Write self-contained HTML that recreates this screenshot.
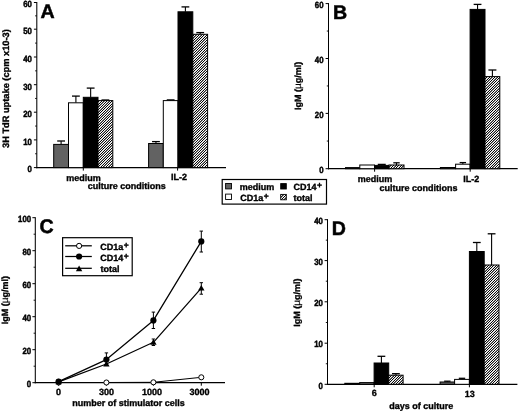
<!DOCTYPE html>
<html><head><meta charset="utf-8"><title>Figure</title>
<style>
html,body{margin:0;padding:0;background:#fff;}
body{width:520px;height:412px;overflow:hidden;font-family:"Liberation Sans",sans-serif;}
svg{display:block;font-family:"Liberation Sans",sans-serif;font-weight:bold;text-rendering:geometricPrecision;}
text{fill:#000;}
</style></head><body>
<svg width="520" height="412" viewBox="0 0 520 412">
<rect width="520" height="412" fill="#fff"/>
<defs><linearGradient id="hg" gradientUnits="userSpaceOnUse" x1="0" y1="0" x2="1.3" y2="1.3" spreadMethod="repeat"><stop offset="0" stop-color="rgb(0,0,0)"/><stop offset="0.06" stop-color="rgb(0,0,0)"/><stop offset="0.12" stop-color="rgb(9,9,9)"/><stop offset="0.19" stop-color="rgb(75,75,75)"/><stop offset="0.25" stop-color="rgb(153,153,153)"/><stop offset="0.31" stop-color="rgb(231,231,231)"/><stop offset="0.38" stop-color="rgb(255,255,255)"/><stop offset="0.44" stop-color="rgb(255,255,255)"/><stop offset="0.5" stop-color="rgb(255,255,255)"/><stop offset="0.56" stop-color="rgb(255,255,255)"/><stop offset="0.62" stop-color="rgb(255,255,255)"/><stop offset="0.69" stop-color="rgb(231,231,231)"/><stop offset="0.75" stop-color="rgb(153,153,153)"/><stop offset="0.81" stop-color="rgb(75,75,75)"/><stop offset="0.88" stop-color="rgb(9,9,9)"/><stop offset="0.94" stop-color="rgb(0,0,0)"/><stop offset="1" stop-color="rgb(0,0,0)"/></linearGradient></defs>
<filter id="ff" x="0" y="0" width="520" height="412" filterUnits="userSpaceOnUse" color-interpolation-filters="sRGB"><feOffset dx="0" dy="0"/></filter>
<g filter="url(#ff)">

<line x1="36.8" y1="1.95" x2="36.8" y2="168.2" stroke="#000" stroke-width="1.05"/>
<line x1="33.9" y1="167.6" x2="36.8" y2="167.6" stroke="#000" stroke-width="1.0"/>
<text transform="translate(31.9 172.4) scale(0.87 1.0)" font-size="9" text-anchor="end" stroke="#000" stroke-width="0.45">0</text>
<line x1="33.9" y1="139.9" x2="36.8" y2="139.9" stroke="#000" stroke-width="1.0"/>
<text transform="translate(31.9 144.7) scale(0.87 1.0)" font-size="9" text-anchor="end" stroke="#000" stroke-width="0.45">10</text>
<line x1="33.9" y1="112.2" x2="36.8" y2="112.2" stroke="#000" stroke-width="1.0"/>
<text transform="translate(31.9 117) scale(0.87 1.0)" font-size="9" text-anchor="end" stroke="#000" stroke-width="0.45">20</text>
<line x1="33.9" y1="84.7" x2="36.8" y2="84.7" stroke="#000" stroke-width="1.0"/>
<text transform="translate(31.9 89.5) scale(0.87 1.0)" font-size="9" text-anchor="end" stroke="#000" stroke-width="0.45">30</text>
<line x1="33.9" y1="57" x2="36.8" y2="57" stroke="#000" stroke-width="1.0"/>
<text transform="translate(31.9 61.8) scale(0.87 1.0)" font-size="9" text-anchor="end" stroke="#000" stroke-width="0.45">40</text>
<line x1="33.9" y1="29.2" x2="36.8" y2="29.2" stroke="#000" stroke-width="1.0"/>
<text transform="translate(31.9 34) scale(0.87 1.0)" font-size="9" text-anchor="end" stroke="#000" stroke-width="0.45">50</text>
<line x1="33.9" y1="2.5" x2="36.8" y2="2.5" stroke="#000" stroke-width="1.0"/>
<text transform="translate(31.9 7.3) scale(0.87 1.0)" font-size="9" text-anchor="end" stroke="#000" stroke-width="0.45">60</text>
<line x1="35.1" y1="153.75" x2="36.8" y2="153.75" stroke="#000" stroke-width="0.9"/>
<line x1="35.1" y1="126.05" x2="36.8" y2="126.05" stroke="#000" stroke-width="0.9"/>
<line x1="35.1" y1="98.45" x2="36.8" y2="98.45" stroke="#000" stroke-width="0.9"/>
<line x1="35.1" y1="70.85" x2="36.8" y2="70.85" stroke="#000" stroke-width="0.9"/>
<line x1="35.1" y1="43.1" x2="36.8" y2="43.1" stroke="#000" stroke-width="0.9"/>
<line x1="35.1" y1="15.85" x2="36.8" y2="15.85" stroke="#000" stroke-width="0.9"/>
<line x1="36.2" y1="167.6" x2="226" y2="167.6" stroke="#000" stroke-width="1.2"/>
<line x1="83.3" y1="167.6" x2="83.3" y2="170.6" stroke="#000" stroke-width="1.0"/>
<line x1="177.6" y1="167.6" x2="177.6" y2="170.6" stroke="#000" stroke-width="1.0"/>
<line x1="61.1" y1="144.4" x2="61.1" y2="141" stroke="#000" stroke-width="1.1"/>
<line x1="57.2" y1="141" x2="65" y2="141" stroke="#000" stroke-width="1.3"/>
<rect x="53.7" y="144.4" width="14.8" height="23.2" fill="#626262" stroke="#000" stroke-width="1.0"/>
<line x1="75.9" y1="102.8" x2="75.9" y2="96.1" stroke="#000" stroke-width="1.1"/>
<line x1="72" y1="96.1" x2="79.8" y2="96.1" stroke="#000" stroke-width="1.3"/>
<rect x="68.5" y="102.8" width="14.8" height="64.8" fill="#fff" stroke="#000" stroke-width="1.0"/>
<line x1="90.65" y1="97.3" x2="90.65" y2="88.1" stroke="#000" stroke-width="1.1"/>
<line x1="86.75" y1="88.1" x2="94.55" y2="88.1" stroke="#000" stroke-width="1.3"/>
<rect x="83.3" y="97.3" width="14.7" height="70.3" fill="#000" stroke="#000" stroke-width="1.0"/>
<line x1="105.4" y1="100.6" x2="105.4" y2="100" stroke="#000" stroke-width="1.1"/>
<line x1="101.5" y1="100" x2="109.3" y2="100" stroke="#000" stroke-width="1.3"/>
<rect x="98" y="100.6" width="14.8" height="67" fill="url(#hg)" stroke="#000" stroke-width="1.0"/>
<line x1="155.95" y1="143.5" x2="155.95" y2="141.6" stroke="#000" stroke-width="1.1"/>
<line x1="152.05" y1="141.6" x2="159.85" y2="141.6" stroke="#000" stroke-width="1.3"/>
<rect x="148.6" y="143.5" width="14.7" height="24.1" fill="#626262" stroke="#000" stroke-width="1.0"/>
<line x1="170.65" y1="100.6" x2="170.65" y2="99.9" stroke="#000" stroke-width="1.1"/>
<line x1="166.75" y1="99.9" x2="174.55" y2="99.9" stroke="#000" stroke-width="1.3"/>
<rect x="163.3" y="100.6" width="14.7" height="67" fill="#fff" stroke="#000" stroke-width="1.0"/>
<line x1="185.4" y1="11.8" x2="185.4" y2="6.9" stroke="#000" stroke-width="1.1"/>
<line x1="181.5" y1="6.9" x2="189.3" y2="6.9" stroke="#000" stroke-width="1.3"/>
<rect x="178" y="11.8" width="14.8" height="155.8" fill="#000" stroke="#000" stroke-width="1.0"/>
<line x1="200.2" y1="34.3" x2="200.2" y2="32.6" stroke="#000" stroke-width="1.1"/>
<line x1="196.3" y1="32.6" x2="204.1" y2="32.6" stroke="#000" stroke-width="1.3"/>
<rect x="192.8" y="34.3" width="14.8" height="133.3" fill="url(#hg)" stroke="#000" stroke-width="1.0"/>
<text transform="translate(83.4 180.6)" font-size="9" text-anchor="middle" stroke="#000" stroke-width="0.35">medium</text>
<text transform="translate(178.9 180.4)" font-size="9" text-anchor="middle" stroke="#000" stroke-width="0.35">IL-2</text>
<text transform="translate(126.8 189.4)" font-size="9" text-anchor="middle" stroke="#000" stroke-width="0.35">culture conditions</text>
<text transform="translate(9.2 88.6) rotate(-90)" font-size="9.25" text-anchor="middle" stroke="#000" stroke-width="0.35">3H TdR uptake (cpm x10-3)</text>
<text transform="translate(40.6 18.3)" font-size="19.6" text-anchor="start" stroke="#000" stroke-width="0.5">A</text>
<rect x="222.2" y="179.5" width="104.3" height="24.6" fill="#fff" stroke="#000" stroke-width="1.2"/>
<rect x="225.6" y="183.5" width="5.9" height="5.4" fill="#626262" stroke="#000" stroke-width="0.9"/>
<rect x="225.6" y="194.1" width="5.9" height="5.4" fill="#fff" stroke="#000" stroke-width="0.9"/>
<rect x="280.7" y="183.6" width="5.6" height="5.4" fill="#000" stroke="#000" stroke-width="0.9"/>
<rect x="280.7" y="194.4" width="5.6" height="5.4" fill="url(#hg)" stroke="#000" stroke-width="0.9"/>
<text transform="translate(239.7 190)" font-size="9" text-anchor="start" stroke="#000" stroke-width="0.35">medium</text>
<text transform="translate(240.2 201)" font-size="9" text-anchor="start" stroke="#000" stroke-width="0.35">CD1a<tspan dx="0.5" dy="-1.9" font-size="8.5">+</tspan></text>
<text transform="translate(293.4 190)" font-size="9" text-anchor="start" stroke="#000" stroke-width="0.35">CD14<tspan dx="0.5" dy="-1.9" font-size="8.5">+</tspan></text>
<text transform="translate(293.6 201)" font-size="9" text-anchor="start" stroke="#000" stroke-width="0.35">total</text>
<line x1="328.5" y1="3.05" x2="328.5" y2="169.3" stroke="#000" stroke-width="1.05"/>
<line x1="325.6" y1="168.7" x2="328.5" y2="168.7" stroke="#000" stroke-width="1.0"/>
<text transform="translate(323.5 173.3) scale(0.87 1.0)" font-size="9" text-anchor="end" stroke="#000" stroke-width="0.45">0</text>
<line x1="325.6" y1="113.4" x2="328.5" y2="113.4" stroke="#000" stroke-width="1.0"/>
<text transform="translate(323.5 118) scale(0.87 1.0)" font-size="9" text-anchor="end" stroke="#000" stroke-width="0.45">20</text>
<line x1="325.6" y1="58.5" x2="328.5" y2="58.5" stroke="#000" stroke-width="1.0"/>
<text transform="translate(323.5 63.1) scale(0.87 1.0)" font-size="9" text-anchor="end" stroke="#000" stroke-width="0.45">40</text>
<line x1="325.6" y1="3.6" x2="328.5" y2="3.6" stroke="#000" stroke-width="1.0"/>
<text transform="translate(323.5 8.2) scale(0.87 1.0)" font-size="9" text-anchor="end" stroke="#000" stroke-width="0.45">60</text>
<line x1="326.8" y1="141.05" x2="328.5" y2="141.05" stroke="#000" stroke-width="0.9"/>
<line x1="326.8" y1="85.95" x2="328.5" y2="85.95" stroke="#000" stroke-width="0.9"/>
<line x1="326.8" y1="31.05" x2="328.5" y2="31.05" stroke="#000" stroke-width="0.9"/>
<line x1="327.9" y1="168.7" x2="517.7" y2="168.7" stroke="#000" stroke-width="1.2"/>
<line x1="374.6" y1="168.7" x2="374.6" y2="171.7" stroke="#000" stroke-width="1.0"/>
<line x1="470.2" y1="168.7" x2="470.2" y2="171.7" stroke="#000" stroke-width="1.0"/>
<rect x="345.5" y="167.6" width="14.3" height="1.1" fill="#626262" stroke="#000" stroke-width="1.0"/>
<rect x="359.8" y="165" width="14.7" height="3.7" fill="#fff" stroke="#000" stroke-width="1.0"/>
<line x1="381.75" y1="165.4" x2="381.75" y2="164.4" stroke="#000" stroke-width="1.1"/>
<line x1="377.75" y1="164.4" x2="385.75" y2="164.4" stroke="#000" stroke-width="1.3"/>
<rect x="374.5" y="165.4" width="14.5" height="3.3" fill="#000" stroke="#000" stroke-width="1.0"/>
<line x1="396.5" y1="165" x2="396.5" y2="162.8" stroke="#000" stroke-width="1.1"/>
<line x1="393.3" y1="162.8" x2="399.7" y2="162.8" stroke="#000" stroke-width="1.3"/>
<rect x="389" y="165" width="15" height="3.7" fill="url(#hg)" stroke="#000" stroke-width="1.0"/>
<rect x="440.4" y="167.5" width="15.2" height="1.2" fill="#626262" stroke="#000" stroke-width="1.0"/>
<line x1="462.85" y1="164.2" x2="462.85" y2="162.6" stroke="#000" stroke-width="1.1"/>
<line x1="459.65" y1="162.6" x2="466.05" y2="162.6" stroke="#000" stroke-width="1.3"/>
<rect x="455.6" y="164.2" width="14.5" height="4.5" fill="#fff" stroke="#000" stroke-width="1.0"/>
<line x1="477.55" y1="9.4" x2="477.55" y2="4.4" stroke="#000" stroke-width="1.1"/>
<line x1="473.65" y1="4.4" x2="481.45" y2="4.4" stroke="#000" stroke-width="1.3"/>
<rect x="470.1" y="9.4" width="14.9" height="159.3" fill="#000" stroke="#000" stroke-width="1.0"/>
<line x1="492.4" y1="76.6" x2="492.4" y2="70" stroke="#000" stroke-width="1.1"/>
<line x1="488.4" y1="70" x2="496.4" y2="70" stroke="#000" stroke-width="1.3"/>
<rect x="485" y="76.6" width="14.8" height="92.1" fill="url(#hg)" stroke="#000" stroke-width="1.0"/>
<text transform="translate(375.1 181.6)" font-size="9" text-anchor="middle" stroke="#000" stroke-width="0.35">medium</text>
<text transform="translate(471.2 181.6)" font-size="9" text-anchor="middle" stroke="#000" stroke-width="0.35">IL-2</text>
<text transform="translate(418.6 190.6)" font-size="9" text-anchor="middle" stroke="#000" stroke-width="0.35">culture conditions</text>
<text transform="translate(301.3 85.9) rotate(-90)" font-size="9" text-anchor="middle" stroke="#000" stroke-width="0.35">IgM (<tspan font-weight="normal" stroke-width="0.15" font-size="10">µ</tspan>g/ml)</text>
<text transform="translate(333 18.7)" font-size="19.6" text-anchor="start" stroke="#000" stroke-width="0.5">B</text>
<line x1="35.3" y1="217.15" x2="35.3" y2="383.3" stroke="#000" stroke-width="1.05"/>
<line x1="32.4" y1="382.7" x2="35.3" y2="382.7" stroke="#000" stroke-width="1.0"/>
<text transform="translate(31.2 386.7) scale(0.87 1.0)" font-size="9" text-anchor="end" stroke="#000" stroke-width="0.45">0</text>
<line x1="32.4" y1="349.7" x2="35.3" y2="349.7" stroke="#000" stroke-width="1.0"/>
<text transform="translate(31.2 353.7) scale(0.87 1.0)" font-size="9" text-anchor="end" stroke="#000" stroke-width="0.45">20</text>
<line x1="32.4" y1="316.7" x2="35.3" y2="316.7" stroke="#000" stroke-width="1.0"/>
<text transform="translate(31.2 320.7) scale(0.87 1.0)" font-size="9" text-anchor="end" stroke="#000" stroke-width="0.45">40</text>
<line x1="32.4" y1="283.7" x2="35.3" y2="283.7" stroke="#000" stroke-width="1.0"/>
<text transform="translate(31.2 287.7) scale(0.87 1.0)" font-size="9" text-anchor="end" stroke="#000" stroke-width="0.45">60</text>
<line x1="32.4" y1="250.7" x2="35.3" y2="250.7" stroke="#000" stroke-width="1.0"/>
<text transform="translate(31.2 254.7) scale(0.87 1.0)" font-size="9" text-anchor="end" stroke="#000" stroke-width="0.45">80</text>
<line x1="32.4" y1="217.7" x2="35.3" y2="217.7" stroke="#000" stroke-width="1.0"/>
<text transform="translate(31.2 221.7) scale(0.87 1.0)" font-size="9" text-anchor="end" stroke="#000" stroke-width="0.45">100</text>
<line x1="33.6" y1="366.2" x2="35.3" y2="366.2" stroke="#000" stroke-width="0.9"/>
<line x1="33.6" y1="333.2" x2="35.3" y2="333.2" stroke="#000" stroke-width="0.9"/>
<line x1="33.6" y1="300.2" x2="35.3" y2="300.2" stroke="#000" stroke-width="0.9"/>
<line x1="33.6" y1="267.2" x2="35.3" y2="267.2" stroke="#000" stroke-width="0.9"/>
<line x1="33.6" y1="234.2" x2="35.3" y2="234.2" stroke="#000" stroke-width="0.9"/>
<line x1="34.7" y1="382.7" x2="225" y2="382.7" stroke="#000" stroke-width="1.2"/>
<line x1="58.6" y1="382.7" x2="58.6" y2="385.7" stroke="#000" stroke-width="1.0"/>
<line x1="106.4" y1="382.7" x2="106.4" y2="385.7" stroke="#000" stroke-width="1.0"/>
<line x1="153.4" y1="382.7" x2="153.4" y2="385.7" stroke="#000" stroke-width="1.0"/>
<line x1="201.3" y1="382.7" x2="201.3" y2="385.7" stroke="#000" stroke-width="1.0"/>
<text transform="translate(58.6 395.1)" font-size="9" text-anchor="middle" stroke="#000" stroke-width="0.35">0</text>
<text transform="translate(106.4 395.1)" font-size="9" text-anchor="middle" stroke="#000" stroke-width="0.35">300</text>
<text transform="translate(152 395.1)" font-size="9" text-anchor="middle" stroke="#000" stroke-width="0.35">1000</text>
<text transform="translate(199.5 395.1)" font-size="9" text-anchor="middle" stroke="#000" stroke-width="0.35">3000</text>
<text transform="translate(128.6 406)" font-size="9" text-anchor="middle" stroke="#000" stroke-width="0.35">number of stimulator cells</text>
<text transform="translate(8.1 300.2) rotate(-90)" font-size="9" text-anchor="middle" stroke="#000" stroke-width="0.35">IgM (<tspan font-weight="normal" stroke-width="0.15" font-size="10">µ</tspan>g/ml)</text>
<text transform="translate(39.6 232.9)" font-size="19.6" text-anchor="start" stroke="#000" stroke-width="0.5">C</text>
<polyline points="58.6,382.5 106.4,382.5 153.4,382.3 201.3,377.3" fill="none" stroke="#000" stroke-width="1.0" stroke-linejoin="round"/>
<circle cx="58.6" cy="382.5" r="2.55" fill="#fff" stroke="#000" stroke-width="1"/>
<circle cx="106.4" cy="382.5" r="2.55" fill="#fff" stroke="#000" stroke-width="1"/>
<circle cx="153.4" cy="382.3" r="2.55" fill="#fff" stroke="#000" stroke-width="1"/>
<circle cx="201.3" cy="377.3" r="2.55" fill="#fff" stroke="#000" stroke-width="1"/>
<polyline points="58.6,381.8 106.4,364 153.4,342.3 201.3,288.2" fill="none" stroke="#000" stroke-width="1.25" stroke-linejoin="round"/>
<polyline points="58.6,381.6 106.4,359.6 153.4,320.4 201.3,241.4" fill="none" stroke="#000" stroke-width="1.25" stroke-linejoin="round"/>
<line x1="106.4" y1="352.9" x2="106.4" y2="365.5" stroke="#000" stroke-width="1.0"/>
<line x1="104.7" y1="352.9" x2="108.1" y2="352.9" stroke="#000" stroke-width="1.0"/>
<line x1="104.7" y1="365.5" x2="108.1" y2="365.5" stroke="#000" stroke-width="1.0"/>
<line x1="153.4" y1="312.1" x2="153.4" y2="328.5" stroke="#000" stroke-width="1.0"/>
<line x1="151.7" y1="312.1" x2="155.1" y2="312.1" stroke="#000" stroke-width="1.0"/>
<line x1="151.7" y1="328.5" x2="155.1" y2="328.5" stroke="#000" stroke-width="1.0"/>
<line x1="201.3" y1="231.1" x2="201.3" y2="252" stroke="#000" stroke-width="1.0"/>
<line x1="199.6" y1="231.1" x2="203" y2="231.1" stroke="#000" stroke-width="1.0"/>
<line x1="199.6" y1="252" x2="203" y2="252" stroke="#000" stroke-width="1.0"/>
<line x1="153.4" y1="339" x2="153.4" y2="345.5" stroke="#000" stroke-width="1.0"/>
<line x1="151.7" y1="339" x2="155.1" y2="339" stroke="#000" stroke-width="1.0"/>
<line x1="151.7" y1="345.5" x2="155.1" y2="345.5" stroke="#000" stroke-width="1.0"/>
<line x1="201.3" y1="282.7" x2="201.3" y2="294.2" stroke="#000" stroke-width="1.0"/>
<line x1="199.6" y1="282.7" x2="203" y2="282.7" stroke="#000" stroke-width="1.0"/>
<line x1="199.6" y1="294.2" x2="203" y2="294.2" stroke="#000" stroke-width="1.0"/>
<polygon points="58.6,378.6 55.4,384.2 61.8,384.2" fill="#000"/>
<polygon points="106.4,360.8 103.2,366.4 109.6,366.4" fill="#000"/>
<polygon points="153.4,339.1 150.2,344.7 156.6,344.7" fill="#000"/>
<polygon points="201.3,285 198.1,290.6 204.5,290.6" fill="#000"/>
<circle cx="58.6" cy="381.6" r="3.1" fill="#000"/>
<circle cx="106.4" cy="359.6" r="3.1" fill="#000"/>
<circle cx="153.4" cy="320.4" r="3.1" fill="#000"/>
<circle cx="201.3" cy="241.4" r="3.1" fill="#000"/>
<rect x="62.6" y="237.7" width="69.6" height="38" fill="#fff" stroke="#000" stroke-width="1.2"/>
<line x1="65.2" y1="245.8" x2="91.8" y2="245.8" stroke="#000" stroke-width="1.25"/>
<line x1="65.2" y1="256.5" x2="91.8" y2="256.5" stroke="#000" stroke-width="1.25"/>
<line x1="65.2" y1="268.3" x2="91.8" y2="268.3" stroke="#000" stroke-width="1.25"/>
<circle cx="79.1" cy="245.9" r="2.6" fill="#fff" stroke="#000" stroke-width="1"/>
<circle cx="79.1" cy="256.5" r="3.1" fill="#000"/>
<polygon points="79.1,265.6 75.9,271.2 82.3,271.2" fill="#000"/>
<text transform="translate(100.3 250)" font-size="9" text-anchor="start" stroke="#000" stroke-width="0.35">CD1a<tspan dx="0.5" dy="-1.9" font-size="8.5">+</tspan></text>
<text transform="translate(100.3 260.6)" font-size="9" text-anchor="start" stroke="#000" stroke-width="0.35">CD14<tspan dx="0.5" dy="-1.9" font-size="8.5">+</tspan></text>
<text transform="translate(100.5 272.3)" font-size="9" text-anchor="start" stroke="#000" stroke-width="0.35">total</text>
<line x1="327.5" y1="219.15" x2="327.5" y2="384.9" stroke="#000" stroke-width="1.05"/>
<line x1="324.6" y1="384.3" x2="327.5" y2="384.3" stroke="#000" stroke-width="1.0"/>
<text transform="translate(322.9 388.5) scale(0.87 1.0)" font-size="9" text-anchor="end" stroke="#000" stroke-width="0.45">0</text>
<line x1="324.6" y1="343.2" x2="327.5" y2="343.2" stroke="#000" stroke-width="1.0"/>
<text transform="translate(322.9 347.4) scale(0.87 1.0)" font-size="9" text-anchor="end" stroke="#000" stroke-width="0.45">10</text>
<line x1="324.6" y1="301.8" x2="327.5" y2="301.8" stroke="#000" stroke-width="1.0"/>
<text transform="translate(322.9 306) scale(0.87 1.0)" font-size="9" text-anchor="end" stroke="#000" stroke-width="0.45">20</text>
<line x1="324.6" y1="260.6" x2="327.5" y2="260.6" stroke="#000" stroke-width="1.0"/>
<text transform="translate(322.9 264.8) scale(0.87 1.0)" font-size="9" text-anchor="end" stroke="#000" stroke-width="0.45">30</text>
<line x1="324.6" y1="219.7" x2="327.5" y2="219.7" stroke="#000" stroke-width="1.0"/>
<text transform="translate(322.9 223.9) scale(0.87 1.0)" font-size="9" text-anchor="end" stroke="#000" stroke-width="0.45">40</text>
<line x1="325.8" y1="363.75" x2="327.5" y2="363.75" stroke="#000" stroke-width="0.9"/>
<line x1="325.8" y1="322.5" x2="327.5" y2="322.5" stroke="#000" stroke-width="0.9"/>
<line x1="325.8" y1="281.2" x2="327.5" y2="281.2" stroke="#000" stroke-width="0.9"/>
<line x1="325.8" y1="240.15" x2="327.5" y2="240.15" stroke="#000" stroke-width="0.9"/>
<line x1="326.9" y1="384.3" x2="517.4" y2="384.3" stroke="#000" stroke-width="1.2"/>
<line x1="374.2" y1="384.3" x2="374.2" y2="387.3" stroke="#000" stroke-width="1.0"/>
<line x1="469.4" y1="384.3" x2="469.4" y2="387.3" stroke="#000" stroke-width="1.0"/>
<rect x="344.8" y="383.3" width="14.9" height="1" fill="#626262" stroke="#000" stroke-width="1.0"/>
<rect x="359.7" y="382.6" width="14.4" height="1.7" fill="#626262" stroke="#000" stroke-width="1.0"/>
<line x1="381.4" y1="363" x2="381.4" y2="356.3" stroke="#000" stroke-width="1.1"/>
<line x1="377.5" y1="356.3" x2="385.3" y2="356.3" stroke="#000" stroke-width="1.3"/>
<rect x="374.1" y="363" width="14.6" height="21.3" fill="#000" stroke="#000" stroke-width="1.0"/>
<line x1="395.9" y1="375.2" x2="395.9" y2="373.7" stroke="#000" stroke-width="1.1"/>
<line x1="392" y1="373.7" x2="399.8" y2="373.7" stroke="#000" stroke-width="1.3"/>
<rect x="388.7" y="375.2" width="14.4" height="9.1" fill="url(#hg)" stroke="#000" stroke-width="1.0"/>
<line x1="447.35" y1="382" x2="447.35" y2="381.2" stroke="#000" stroke-width="1.1"/>
<line x1="444.15" y1="381.2" x2="450.55" y2="381.2" stroke="#000" stroke-width="1.3"/>
<rect x="440.1" y="382" width="14.5" height="2.3" fill="#626262" stroke="#000" stroke-width="1.0"/>
<line x1="462" y1="379.4" x2="462" y2="378.3" stroke="#000" stroke-width="1.1"/>
<line x1="458.8" y1="378.3" x2="465.2" y2="378.3" stroke="#000" stroke-width="1.3"/>
<rect x="454.6" y="379.4" width="14.8" height="4.9" fill="#fff" stroke="#000" stroke-width="1.0"/>
<line x1="476.8" y1="251.5" x2="476.8" y2="242.5" stroke="#000" stroke-width="1.1"/>
<line x1="472.9" y1="242.5" x2="480.7" y2="242.5" stroke="#000" stroke-width="1.3"/>
<rect x="469.4" y="251.5" width="14.8" height="132.8" fill="#000" stroke="#000" stroke-width="1.0"/>
<line x1="491.6" y1="265" x2="491.6" y2="233.8" stroke="#000" stroke-width="1.1"/>
<line x1="487.7" y1="233.8" x2="495.5" y2="233.8" stroke="#000" stroke-width="1.3"/>
<rect x="484.2" y="265" width="14.8" height="119.3" fill="url(#hg)" stroke="#000" stroke-width="1.0"/>
<text transform="translate(374.2 396.1)" font-size="9" text-anchor="middle" stroke="#000" stroke-width="0.35">6</text>
<text transform="translate(469.8 396.5)" font-size="9" text-anchor="middle" stroke="#000" stroke-width="0.35">13</text>
<text transform="translate(421.2 408.5)" font-size="9" text-anchor="middle" stroke="#000" stroke-width="0.35">days of culture</text>
<text transform="translate(299.9 302.6) rotate(-90)" font-size="9" text-anchor="middle" stroke="#000" stroke-width="0.35">IgM (<tspan font-weight="normal" stroke-width="0.15" font-size="10">µ</tspan>g/ml)</text>
<text transform="translate(331.8 235.1)" font-size="19.6" text-anchor="start" stroke="#000" stroke-width="0.5">D</text>
</g></svg></body></html>
